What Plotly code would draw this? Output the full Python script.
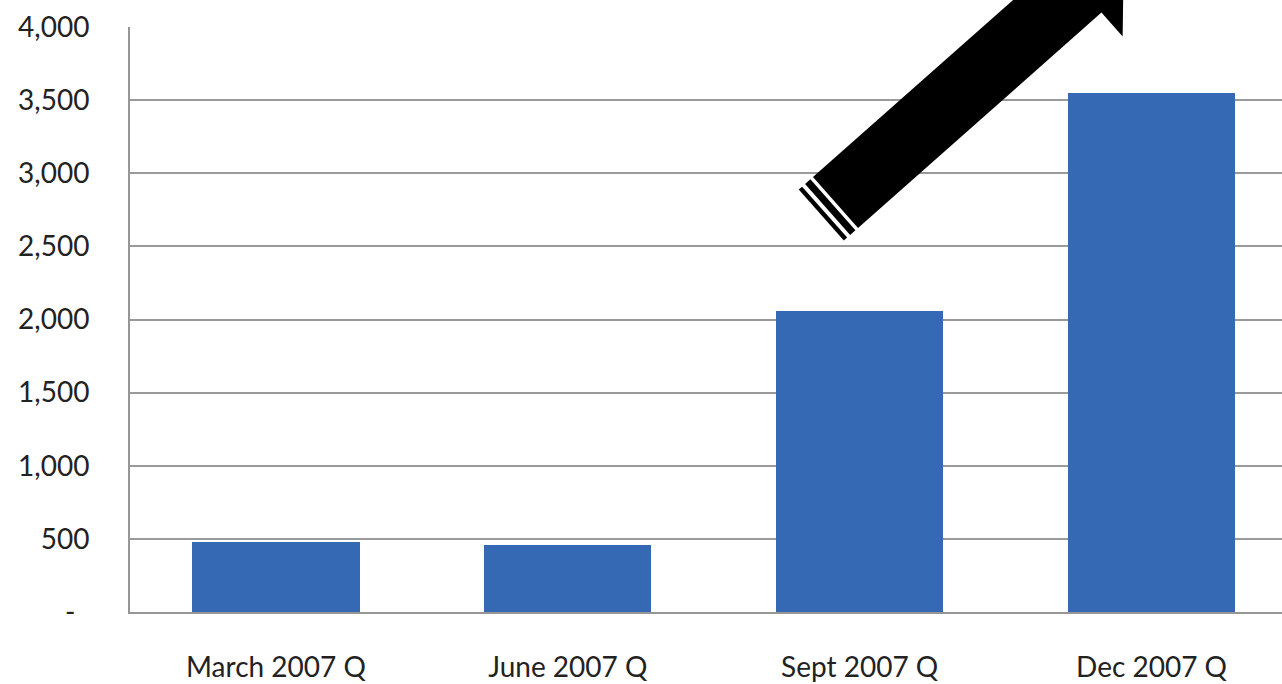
import math
import plotly.graph_objects as go

# Quarterly figures, 2007
quarters = ["March 2007 Q", "June 2007 Q", "Sept 2007 Q", "Dec 2007 Q"]
values = [480, 460, 2060, 3550]

# Y axis ticks (accounting style: zero shown as a dash, padded on the right)
tick_vals = [0, 500, 1000, 1500, 2000, 2500, 3000, 3500, 4000]
tick_text = ["-\u2002", "500", "1,000", "1,500", "2,000", "2,500", "3,000", "3,500", "4,000"]

W, H = 1282, 684
M_L, M_R, M_T, M_B = 130, 0, 27, 72
PW, PH = W - M_L - M_R, H - M_T - M_B

fig = go.Figure()
fig.add_trace(go.Bar(
    x=list(range(len(quarters))),
    y=values,
    width=0.573,
    marker=dict(color="#3669B3", line=dict(width=0)),
    hoverinfo="skip",
))


def to_paper(px, py):
    """Convert page pixel coordinates to paper coordinates."""
    return (px - M_L) / PW, (H - M_B - py) / PH


def path_from(points):
    pts = [to_paper(x, y) for x, y in points]
    return "M " + " L ".join(f"{x:.5f},{y:.5f}" for x, y in pts) + " Z"


# Decorative block arrow pointing up and to the right
cx, cy = 835.5, 202.5          # centre of the tail edge (px)
ang = math.radians(41.5)
ux, uy = math.cos(ang), -math.sin(ang)   # along the arrow
vx, vy = math.sin(ang), math.cos(ang)    # across the arrow


def pt(u, v):
    return (cx + u * ux + v * vx, cy + u * uy + v * vy)


half_w, head_base, head_half, head_len = 34, 325, 66, 60
arrow = [pt(0, -half_w), pt(head_base, -half_w), pt(head_base, -head_half),
         pt(head_base + head_len, 0), pt(head_base, head_half),
         pt(head_base, half_w), pt(0, half_w)]
stripe1 = [pt(-3.5, -half_w), pt(-10.5, -half_w), pt(-10.5, half_w), pt(-3.5, half_w)]
stripe2 = [pt(-14.5, -half_w), pt(-19, -half_w), pt(-19, half_w), pt(-14.5, half_w)]

for poly in (arrow, stripe1, stripe2):
    fig.add_shape(type="path", path=path_from(poly), xref="paper", yref="paper",
                  fillcolor="black", line=dict(width=0), layer="above")

fig.update_layout(
    width=W, height=H,
    margin=dict(l=M_L, r=M_R, t=M_T, b=M_B, pad=0),
    paper_bgcolor="white", plot_bgcolor="white",
    showlegend=False,
    bargap=0,
    font=dict(family="Lato", size=28, color="#222222"),
    xaxis=dict(
        tickmode="array", tickvals=list(range(len(quarters))), ticktext=quarters,
        range=[-0.5, 3.447], showgrid=False, zeroline=False,
        showline=True, linecolor="#969696", linewidth=2,
        ticks="", ticklabelstandoff=29, automargin=False, fixedrange=True,
    ),
    yaxis=dict(
        range=[0, 4000], tickmode="array", tickvals=tick_vals, ticktext=tick_text,
        showgrid=True, gridcolor="#9a9a9a", gridwidth=2,
        zeroline=False, showline=True, linecolor="#969696", linewidth=2,
        ticks="", ticklabelstandoff=33, automargin=False, fixedrange=True,
    ),
)

fig.write_html("out.html", config={"displayModeBar": False})
